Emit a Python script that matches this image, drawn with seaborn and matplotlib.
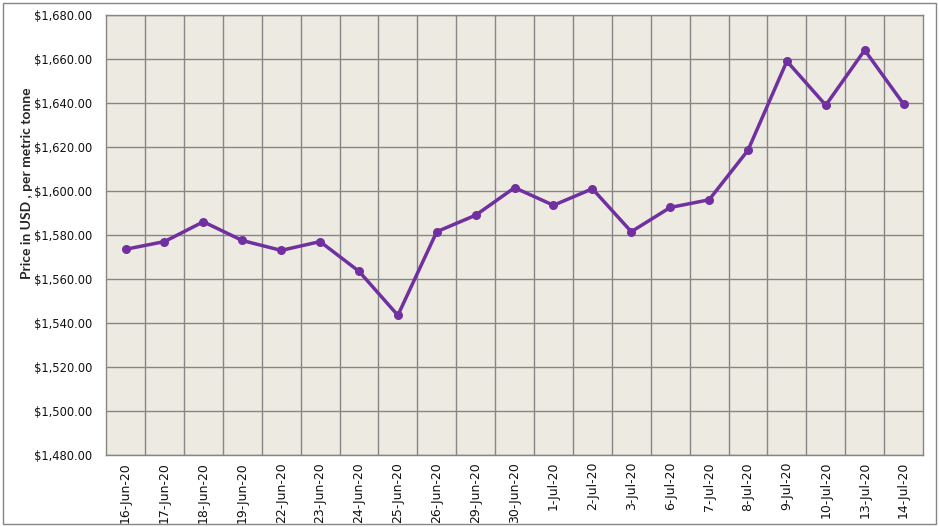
import matplotlib
matplotlib.use('Agg')
import matplotlib.pyplot as plt
import seaborn as sns
import pandas as pd
from matplotlib.patches import Rectangle
from matplotlib.ticker import FuncFormatter, MultipleLocator

dates = ['16-Jun-20', '17-Jun-20', '18-Jun-20', '19-Jun-20', '22-Jun-20', '23-Jun-20',
         '24-Jun-20', '25-Jun-20', '26-Jun-20', '29-Jun-20', '30-Jun-20', '1-Jul-20',
         '2-Jul-20', '3-Jul-20', '6-Jul-20', '7-Jul-20', '8-Jul-20', '9-Jul-20',
         '10-Jul-20', '13-Jul-20', '14-Jul-20']
prices = [1573.5, 1577.0, 1586.0, 1577.5, 1573.0, 1577.0, 1563.5, 1543.5, 1581.5, 1589.0,
          1601.5, 1593.5, 1601.0, 1581.5, 1592.5, 1596.0, 1618.5, 1659.0, 1639.0, 1664.0,
          1639.5]

df = pd.DataFrame({'date': dates, 'price': prices})

sns.set_style('white')
plt.rcParams['font.family'] = ['DejaVu Sans']
fig = plt.figure(figsize=(9.39, 5.27), dpi=100)
ax = fig.add_axes([0.113, 0.1366, 0.870, 0.835])
ax.set_facecolor('#EDEAE1')

sns.lineplot(data=df, x='date', y='price', ax=ax, color='#7030A0', linewidth=2.5,
             marker='o', markersize=6.5, markeredgewidth=0, sort=False)

ax.set_xlim(-0.5, len(dates) - 0.5)
ax.set_ylim(1480, 1680)
ax.yaxis.set_major_locator(MultipleLocator(20))
ax.yaxis.set_major_formatter(FuncFormatter(lambda v, p: f'${v:,.2f}'))
ax.set_xticks(range(len(dates)))
ax.set_xticklabels(dates, rotation=90, fontsize=9)
ax.set_xticks([i + 0.5 for i in range(len(dates) - 1)], minor=True)
ax.tick_params(axis='y', labelsize=8.3, length=0, pad=10, labelcolor='#111111')
ax.tick_params(axis='x', which='both', length=0, pad=5, labelcolor='#111111')
ax.grid(axis='y', which='major', color='#868686', linewidth=1)
ax.grid(axis='x', which='minor', color='#868686', linewidth=1)
ax.grid(axis='x', which='major', visible=False)
ax.set_axisbelow(True)
for s in ax.spines.values():
    s.set_color('#868686')
    s.set_linewidth(1)

ax.set_xlabel('')
ax.set_ylabel('')
fig.text(27 / 939, 1 - 183 / 527, 'Price in USD , per metric tonne', rotation=90,
         ha='center', va='center', fontsize=10, fontweight='bold', family=['Lato', 'DejaVu Sans'])

fig.patches.append(Rectangle((0.003, 0.005), 0.994, 0.99, transform=fig.transFigure,
                             fill=False, edgecolor='#868686', linewidth=1))

fig.savefig('out.png', dpi=100)
